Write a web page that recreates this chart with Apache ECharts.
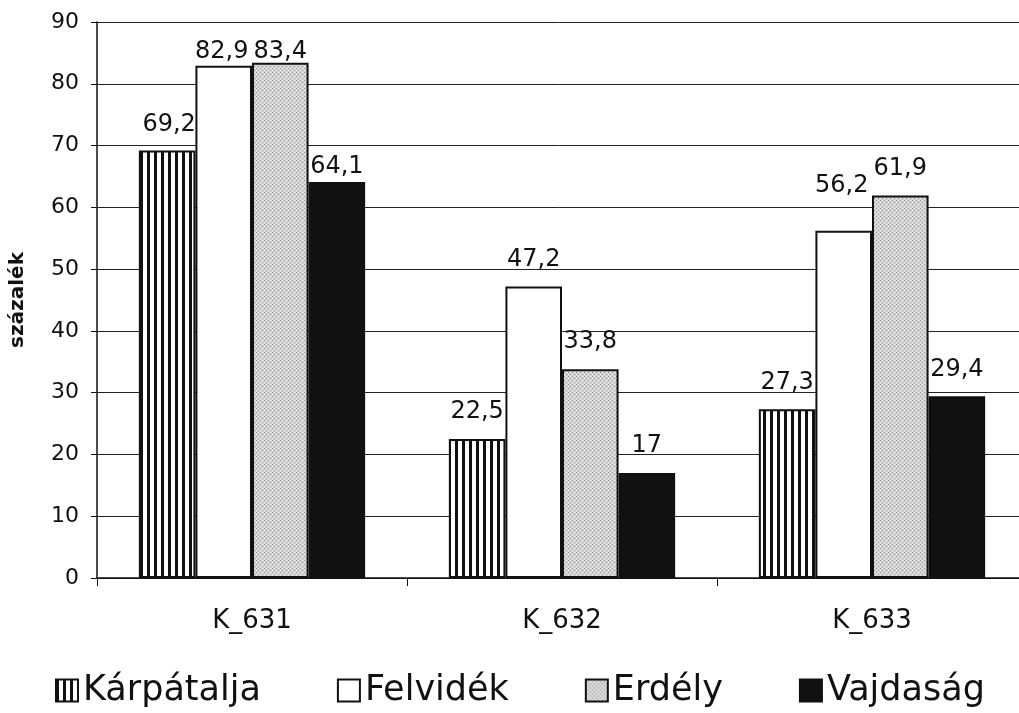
<!DOCTYPE html>
<html><head><meta charset="utf-8">
<script src="https://cdn.jsdelivr.net/npm/echarts@6/dist/echarts.min.js"></script>
<style>html,body{margin:0;padding:0;background:#fff}#c{width:1019px;height:713px}</style>
</head><body><div id="c"></div>
<script>
const categories = ['K_631', 'K_632', 'K_633'];
const seriesNames = ['Kárpátalja', 'Felvidék', 'Erdély', 'Vajdaság'];
const karpatalja = [69.2, 22.5, 27.3];
const felvidek = [82.9, 47.2, 56.2];
const erdely = [83.4, 33.8, 61.9];
const vajdasag = [64.1, 17, 29.4];
const yTicks = [0, 10, 20, 30, 40, 50, 60, 70, 80, 90];

// label nudges (style only): [seriesIndex-categoryIndex] -> [dx, dy]
const labelNudge = {
  '1-0': [-2, 13], '2-0': [0, 16], '3-0': [0, 12], '1-2': [-2, -18], '0-0': [2, 1]
};

function stripePattern() {
  const c = document.createElement('canvas');
  c.width = 7; c.height = 10;
  const g = c.getContext('2d');
  g.fillStyle = '#fff'; g.fillRect(0, 0, 7, 10);
  g.fillStyle = '#111'; g.fillRect(0, 0, 3, 10);
  return { image: c, repeat: 'repeat' };
}
function dotPattern() {
  const c = document.createElement('canvas');
  c.width = 4; c.height = 4;
  const g = c.getContext('2d');
  g.fillStyle = '#d4d4d4'; g.fillRect(0, 0, 4, 4);
  g.fillStyle = '#8e8e8e';
  g.fillRect(0, 0, 1, 1); g.fillRect(2, 2, 1, 1);
  g.fillStyle = '#f0f0f0';
  g.fillRect(2, 0, 1, 1); g.fillRect(0, 2, 1, 1);
  return { image: c, repeat: 'repeat' };
}

const fills = [stripePattern(), '#ffffff', dotPattern(), '#111111'];
const datas = [karpatalja, felvidek, erdely, vajdasag];
const font = '"DejaVu Sans", "Liberation Sans", Arial, sans-serif';

const chart = echarts.init(document.getElementById('c'), null, { renderer: 'canvas' });
chart.setOption({
  animation: false,
  backgroundColor: '#fff',
  grid: { left: 97, right: -8, top: 22, bottom: 135, containLabel: false, outerBoundsMode: 'none' },
  legend: {
    bottom: 0, left: 50,
    itemWidth: 22, itemHeight: 22, itemGap: 76,
    icon: 'rect',
    textStyle: { fontFamily: font, fontSize: 35, color: '#111', padding: [0, 0, 0, 0] },
    data: seriesNames
  },
  xAxis: {
    type: 'category', data: categories,
    axisLine: { lineStyle: { color: '#111', width: 1.5 } },
    axisTick: { show: true, length: 8, lineStyle: { color: '#111' } },
    axisLabel: { fontFamily: font, fontSize: 26, color: '#111', margin: 30 }
  },
  yAxis: {
    type: 'value', min: 0, max: 90, interval: 10,
    name: 'százalék', nameLocation: 'middle', nameGap: 69, nameRotate: 90,
    nameTextStyle: { fontFamily: font, fontSize: 20, fontWeight: 'bold', color: '#111' },
    axisLine: { show: true, lineStyle: { color: '#111', width: 1.5 } },
    axisTick: { show: true, length: 6, lineStyle: { color: '#111' } },
    axisLabel: { fontFamily: font, fontSize: 22, color: '#111', margin: 18,
      formatter: v => yTicks.includes(v) ? String(v) : '' },
    splitLine: { show: true, lineStyle: { color: '#222', width: 1 } }
  },
  series: seriesNames.map((n, i) => ({
    name: n, type: 'bar',
    data: datas[i].map((v, j) => {
      const nud = labelNudge[i + '-' + j];
      return nud ? { value: v, label: { offset: nud } } : v;
    }),
    barGap: '0%', barCategoryGap: '27%',
    itemStyle: { color: fills[i], borderColor: '#111', borderWidth: 2 },
    label: {
      show: true, position: 'top', distance: 15,
      fontFamily: font, fontSize: 24, color: '#111',
      formatter: p => String(p.value).replace('.', ',')
    }
  }))
});
</script></body></html>
